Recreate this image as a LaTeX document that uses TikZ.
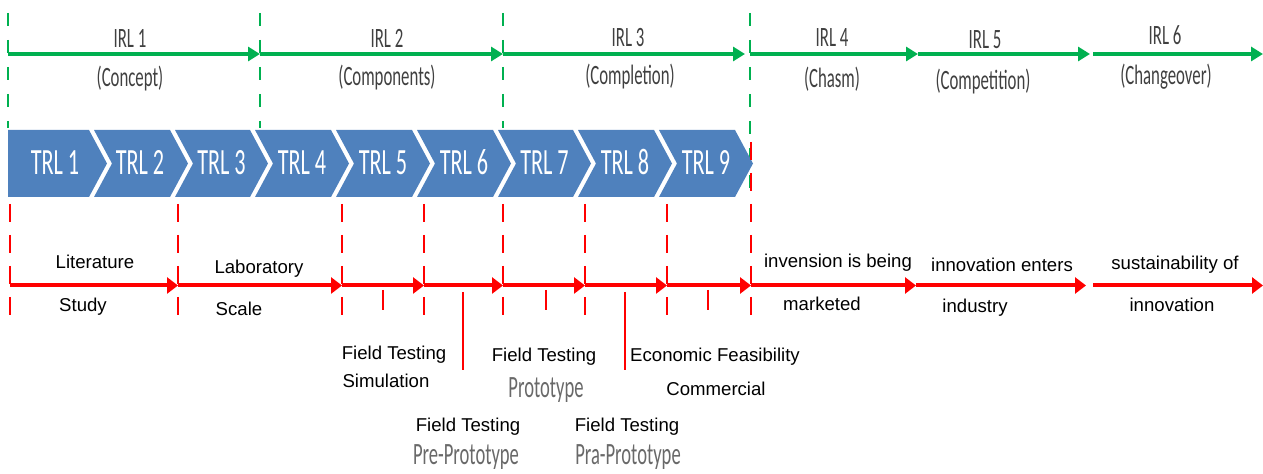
\documentclass[tikz,border=0pt]{standalone}
\usepackage{fontspec}
\setmainfont{Liberation Sans}
\newfontfamily\calibri[FakeStretch=0.6]{Carlito}
\usetikzlibrary{arrows.meta}
\definecolor{trlblue}{RGB}{79,129,189}
\definecolor{irlgreen}{RGB}{0,176,80}
\definecolor{irltext}{RGB}{64,64,64}
\definecolor{protogray}{RGB}{105,105,105}

\begin{document}
\begin{tikzpicture}[x=0.5pt, y=-0.5pt,
		irl/.style={draw=irlgreen, line width=2pt, -{Triangle[length=6pt,width=7pt]}},
		crl/.style={draw=red, line width=2pt, -{Triangle[length=5.5pt,width=8pt]}},
		gdash/.style={draw=irlgreen, line width=1.2pt, dash pattern=on 6.5pt off 7pt},
		rdash/.style={draw=red, line width=1.3pt, dash pattern=on 9pt off 6.5pt},
		rtick/.style={draw=red, line width=1pt},
		chev/.style={fill=trlblue},
		irltxt/.style={anchor=base, inner sep=0pt, text=irltext, font=\calibri\fontsize{14}{16}\selectfont},
		trltxt/.style={anchor=base, inner sep=0pt, text=white, font=\calibri\fontsize{18.5}{20}\selectfont},
		lbl/.style={anchor=base, inner sep=0pt, font=\fontsize{9.3}{11}\selectfont},
		glbl/.style={anchor=base, inner sep=0pt, text=protogray, font=\calibri\fontsize{15.5}{17}\selectfont}]

		\useasboundingbox (0,0) rectangle (1263,474);

		% IRL grenzen
		\draw[gdash] (8,13) -- (8,128);
		\draw[gdash] (260,13) -- (260,128);
		\draw[gdash] (503,13) -- (503,128);
		\draw[gdash] (750,13) -- (750,200);

		% IRL pijlen
		\coordinate (g0) at (8,54);
		\coordinate (g1) at (260,54);
		\coordinate (g2) at (503,54);
		\coordinate (g3) at (750,54);
		\coordinate (g4) at (918,54);
		\coordinate (g5) at (1090,54);
		\coordinate (g6) at (1263,54);
		\draw[irl] (g0) -- (g1);
		\draw[irl] (g1) -- (g2);
		\draw[irl, shorten >=2.5pt] (g2) -- (g3);
		\draw[irl] (g3) -- (g4);
		\draw[irl] (g4) -- (g5);
		\draw[irl, shorten <=1.5pt] (g5) -- (g6);

		\node[irltxt] (irl1) at (130,48) {IRL 1};
		\node[irltxt] (irl1sub) at (130,87) {(Concept)};
		\node[irltxt] (irl2) at (387,48) {IRL 2};
		\node[irltxt] (irl2sub) at (387,86) {(Components)};
		\node[irltxt] (irl3) at (628,47) {IRL 3};
		\node[irltxt] (irl3sub) at (630,85) {(Completion)};
		\node[irltxt] (irl4) at (832,47) {IRL 4};
		\node[irltxt] (irl4sub) at (832,88) {(Chasm)};
		\node[irltxt] (irl5) at (985,49) {IRL 5};
		\node[irltxt] (irl5sub) at (983,90) {(Competition)};
		\node[irltxt] (irl6) at (1165,45) {IRL 6};
		\node[irltxt] (irl6sub) at (1166,85) {(Changeover)};

		% TRL chevrons
		\fill[chev] (8,130) -- (89,130) -- (107,163.5) -- (89,197) -- (8,197) -- cycle;
		\fill[chev] (94,130) -- (170,130) -- (188,163.5) -- (170,197) -- (94,197) -- (112,163.5) -- cycle;
		\fill[chev] (175,130) -- (250,130) -- (268,163.5) -- (250,197) -- (175,197) -- (193,163.5) -- cycle;
		\fill[chev] (255,130) -- (331,130) -- (349,163.5) -- (331,197) -- (255,197) -- (273,163.5) -- cycle;
		\fill[chev] (336,130) -- (412,130) -- (430,163.5) -- (412,197) -- (336,197) -- (354,163.5) -- cycle;
		\fill[chev] (417,130) -- (493,130) -- (511,163.5) -- (493,197) -- (417,197) -- (435,163.5) -- cycle;
		\fill[chev] (498,130) -- (573,130) -- (591,163.5) -- (573,197) -- (498,197) -- (516,163.5) -- cycle;
		\fill[chev] (578,130) -- (654,130) -- (672,163.5) -- (654,197) -- (578,197) -- (596,163.5) -- cycle;
		\fill[chev] (659,130) -- (735,130) -- (753,163.5) -- (735,197) -- (659,197) -- (677,163.5) -- cycle;

		\node[trltxt] (trl1) at (55,175) {TRL 1};
		\node[trltxt] (trl2) at (140,175) {TRL 2};
		\node[trltxt] (trl3) at (221.5,175) {TRL 3};
		\node[trltxt] (trl4) at (302,175) {TRL 4};
		\node[trltxt] (trl5) at (383,175) {TRL 5};
		\node[trltxt] (trl6) at (464,175) {TRL 6};
		\node[trltxt] (trl7) at (544.5,175) {TRL 7};
		\node[trltxt] (trl8) at (625,175) {TRL 8};
		\node[trltxt] (trl9) at (706,175) {TRL 9};

		% TRL grenzen
		\draw[rdash] (10,204) -- (10,322);
		\draw[rdash] (178,204) -- (178,322);
		\draw[rdash] (342,204) -- (342,322);
		\draw[rdash] (424,204) -- (424,322);
		\draw[rdash] (503,204) -- (503,322);
		\draw[rdash] (585,204) -- (585,322);
		\draw[rdash] (667,204) -- (667,322);
		\draw[rdash] (751,142) -- (751,322);

		% TRL pijlen
		\coordinate (r0) at (10,285.5);
		\coordinate (r1) at (178,285.5);
		\coordinate (r2) at (342,285.5);
		\coordinate (r3) at (424,285.5);
		\coordinate (r4) at (503,285.5);
		\coordinate (r5) at (585,285.5);
		\coordinate (r6) at (667,285.5);
		\coordinate (r7) at (751,285.5);
		\coordinate (r8) at (916,285.5);
		\coordinate (r9) at (1090,285.5);
		\coordinate (r10) at (1263,285.5);
		\draw[crl] (r0) -- (r1);
		\draw[crl] (r1) -- (r2);
		\draw[crl] (r2) -- (r3);
		\draw[crl] (r3) -- (r4);
		\draw[crl] (r4) -- (r5);
		\draw[crl] (r5) -- (r6);
		\draw[crl] (r6) -- (r7);
		\draw[crl] (r7) -- (r8);
		\draw[crl, shorten >=2pt] (r8) -- (r9);
		\draw[crl, shorten <=1.5pt] (r9) -- (r10);

		% Tussenstappen
		\draw[rtick] (383,290) -- (383,310);
		\draw[rtick] (546,290) -- (546,310);
		\draw[rtick] (708,290) -- (708,310);
		\draw[rtick] (463,292) -- (463,370);
		\draw[rtick] (625,292) -- (625,370);

		% Beschrijvingen
		\node[lbl] (literature) at (95,269) {Literature};
		\node[lbl] (study) at (83,312) {Study};
		\node[lbl] (laboratory) at (259,274) {Laboratory};
		\node[lbl] (scale) at (239,316) {Scale};
		\node[lbl] (ftsim) at (394,360) {Field Testing};
		\node[lbl] (simulation) at (386,388) {Simulation};
		\node[lbl] (ftpre) at (468,432) {Field Testing};
		\node[glbl] (preproto) at (466,465) {Pre-Prototype};
		\node[lbl] (ftproto) at (544,362) {Field Testing};
		\node[glbl] (proto) at (546,398) {Prototype};
		\node[lbl] (ftpra) at (627,432) {Field Testing};
		\node[glbl] (praproto) at (628,465) {Pra-Prototype};
		\node[lbl] (econ) at (715,362) {Economic Feasibility};
		\node[lbl] (commercial) at (716,396) {Commercial};
		\node[lbl] (invension) at (838,268) {invension is being};
		\node[lbl] (marketed) at (822,311) {marketed};
		\node[lbl] (enters) at (1002,272) {innovation enters};
		\node[lbl] (industry) at (975,313) {industry};
		\node[lbl] (sustain) at (1175,270) {sustainability of};
		\node[lbl] (innovation) at (1172,312) {innovation};

	\end{tikzpicture}
\end{document}
